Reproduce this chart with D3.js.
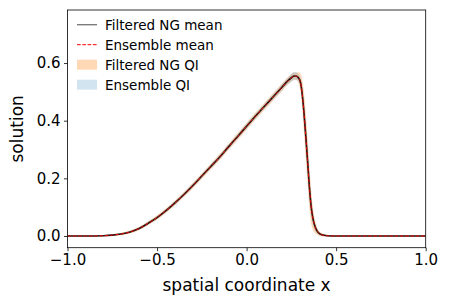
<!DOCTYPE html>
<html>
<head>
<meta charset="utf-8">
<script src="https://cdn.jsdelivr.net/npm/d3@7"></script>
<style>
  body { margin: 0; background: #fff; }
  text { font-family: "DejaVu Sans", sans-serif; fill: #000; }
</style>
</head>
<body>
<svg id="chart" width="449" height="306"></svg>
<script>
// spatial grid and solution values
var xs = [-1, -0.9, -0.8, -0.75, -0.7, -0.65, -0.6, -0.55, -0.5, -0.45, -0.4, -0.35, -0.3, -0.25,
  -0.2, -0.15, -0.1, -0.05, 0, 0.05, 0.1, 0.15, 0.2, 0.23, 0.25, 0.265, 0.28, 0.29, 0.3, 0.31,
  0.32, 0.33, 0.34, 0.35, 0.36, 0.37, 0.38, 0.39, 0.4, 0.42, 0.45, 0.5, 0.6, 0.8, 1];
var ngMean = [0, 0, 0.001, 0.003, 0.007, 0.014, 0.026, 0.044, 0.064, 0.088, 0.115, 0.144, 0.175, 0.208,
  0.241, 0.274, 0.310, 0.345, 0.381, 0.416, 0.450, 0.484, 0.518, 0.538, 0.549, 0.555, 0.554, 0.548, 0.535, 0.495,
  0.43, 0.35, 0.265, 0.175, 0.105, 0.062, 0.037, 0.021, 0.012, 0.004, 0.001, 0, 0, 0, 0];
var ensMean = ngMean.slice();
// half widths of the quantile intervals
var ngSpread = [0.002, 0.002, 0.002, 0.003, 0.004, 0.005, 0.006, 0.007, 0.008, 0.008, 0.009, 0.009, 0.01, 0.01,
  0.01, 0.011, 0.011, 0.012, 0.012, 0.012, 0.013, 0.013, 0.013, 0.013, 0.013, 0.012, 0.013, 0.02, 0.03, 0.05,
  0.07, 0.08, 0.08, 0.075, 0.06, 0.04, 0.025, 0.015, 0.01, 0.006, 0.003, 0.002, 0.002, 0.002, 0.002];
var ensSpread = [0.001, 0.001, 0.001, 0.002, 0.003, 0.004, 0.004, 0.005, 0.005, 0.006, 0.006, 0.007, 0.007, 0.007,
  0.008, 0.008, 0.008, 0.008, 0.009, 0.009, 0.009, 0.01, 0.011, 0.012, 0.014, 0.015, 0.014, 0.012, 0.014, 0.025,
  0.04, 0.05, 0.05, 0.045, 0.035, 0.022, 0.014, 0.009, 0.006, 0.004, 0.002, 0.001, 0.001, 0.001, 0.001];
var xTicks = [-1, -0.5, 0, 0.5, 1];
var yTicks = [0, 0.2, 0.4, 0.6];
var legendLabels = ['Filtered NG mean', 'Ensemble mean', 'Filtered NG QI', 'Ensemble QI'];

var svg = d3.select('#chart');
var plotL = 67.5, plotR = 425.7, plotT = 10, plotB = 247.7;

var x = d3.scaleLinear().domain([-1, 1]).range([plotL, plotR]);
var y = d3.scaleLinear().domain([-0.0406, 0.784]).range([plotB, plotT]);

svg.append('clipPath').attr('id', 'clip')
  .append('rect').attr('x', plotL).attr('y', plotT).attr('width', plotR - plotL).attr('height', plotB - plotT);

var pts = xs.map(function(d, i) {
  return { x: d, ng: ngMean[i], ens: ensMean[i], ngS: ngSpread[i], ensS: ensSpread[i] };
});

var plot = svg.append('g').attr('clip-path', 'url(#clip)');

// quantile bands
plot.append('path').datum(pts)
  .attr('fill', '#ff7f0e').attr('fill-opacity', 0.3)
  .attr('d', d3.area().curve(d3.curveMonotoneX)
    .x(function(d) { return x(d.x); })
    .y0(function(d) { return y(d.ng - d.ngS); })
    .y1(function(d) { return y(d.ng + d.ngS); }));

plot.append('path').datum(pts)
  .attr('fill', '#1f77b4').attr('fill-opacity', 0.2)
  .attr('d', d3.area().curve(d3.curveMonotoneX)
    .x(function(d) { return x(d.x); })
    .y0(function(d) { return y(d.ens - d.ensS); })
    .y1(function(d) { return y(d.ens + d.ensS); }));

// means
plot.append('path').datum(pts)
  .attr('fill', 'none').attr('stroke', '#000').attr('stroke-opacity', 0.9).attr('stroke-width', 1.6)
  .attr('d', d3.line().curve(d3.curveMonotoneX)
    .x(function(d) { return x(d.x); }).y(function(d) { return y(d.ng); }));

plot.append('path').datum(pts)
  .attr('fill', 'none').attr('stroke', 'red').attr('stroke-width', 0.9).attr('stroke-dasharray', '3.7,1.6')
  .attr('d', d3.line().curve(d3.curveMonotoneX)
    .x(function(d) { return x(d.x); }).y(function(d) { return y(d.ens); }));

// axes
var xAxis = svg.append('g').attr('transform', 'translate(0,' + plotB + ')')
  .call(d3.axisBottom(x).tickValues(xTicks).tickSize(3.5).tickPadding(3.5)
    .tickFormat(function(d) { return d3.format('.1f')(d).replace('-', '\u2212'); }));
var yAxis = svg.append('g').attr('transform', 'translate(' + plotL + ',0)')
  .call(d3.axisLeft(y).tickValues(yTicks).tickSize(3.5).tickPadding(3.5).tickFormat(d3.format('.1f')));

[xAxis, yAxis].forEach(function(a) {
  a.select('.domain').remove();
  a.selectAll('line').attr('stroke', '#000').attr('stroke-width', 0.8);
  a.selectAll('text').attr('font-family', 'DejaVu Sans').attr('font-size', 15).attr('fill', '#000');
});

svg.append('rect').attr('x', plotL).attr('y', plotT).attr('width', plotR - plotL).attr('height', plotB - plotT)
  .attr('fill', 'none').attr('stroke', '#000').attr('stroke-width', 0.8);

svg.append('text').attr('x', (plotL + plotR) / 2).attr('y', 291)
  .attr('text-anchor', 'middle').attr('font-size', 17).text('spatial coordinate x');
svg.append('text').attr('transform', 'translate(23,' + ((plotT + plotB) / 2) + ') rotate(-90)')
  .attr('text-anchor', 'middle').attr('font-size', 17).text('solution');

// legend
var leg = svg.append('g');
legendLabels.forEach(function(label, i) {
  var cy = 24.7 + i * 20;
  if (i === 0) {
    leg.append('line').attr('x1', 77).attr('x2', 97).attr('y1', cy).attr('y2', cy)
      .attr('stroke', '#000').attr('stroke-opacity', 0.55).attr('stroke-width', 1.3);
  } else if (i === 1) {
    leg.append('line').attr('x1', 77).attr('x2', 97).attr('y1', cy).attr('y2', cy)
      .attr('stroke', 'red').attr('stroke-width', 1).attr('stroke-dasharray', '3.7,1.6');
  } else {
    leg.append('rect').attr('x', 77).attr('y', cy - 5).attr('width', 20).attr('height', 10)
      .attr('fill', i === 2 ? '#ff7f0e' : '#1f77b4').attr('fill-opacity', i === 2 ? 0.3 : 0.2);
  }
  leg.append('text').attr('x', 105).attr('y', cy).attr('dy', '0.36em')
    .attr('font-size', 13.5).text(label);
});
</script>
</body>
</html>
